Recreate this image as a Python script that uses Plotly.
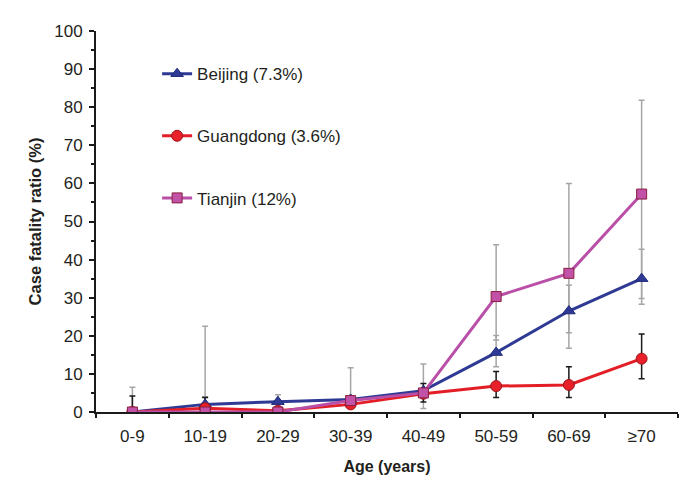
import plotly.graph_objects as go

categories = ["0-9", "10-19", "20-29", "30-39", "40-49", "50-59", "60-69", "≥70"]

beijing = [0, 2.0, 2.7, 3.3, 5.6, 15.6, 26.5, 35.0]
beijing_hi = [None, 4.0, 4.5, 3.3, 5.6, 20.1, 33.3, 42.7]
beijing_lo = [None, 2.0, 2.7, 3.3, 5.6, 11.9, 16.7, 28.3]

guangdong = [0, 1.0, 0.3, 2.0, 4.8, 6.8, 7.1, 14.0]
guangdong_hi = [4.2, 3.8, 0.3, 2.0, 7.5, 10.6, 11.9, 20.5]
guangdong_lo = [0, 1.0, 0.3, 2.0, 2.6, 3.8, 3.8, 8.7]

tianjin = [0, 0, 0, 3.0, 5.0, 30.3, 36.4, 57.2]
tianjin_hi = [6.5, 22.5, None, 11.6, 12.6, 43.9, 60.0, 81.8]
tianjin_lo = [0, 0, None, 3.0, 0.9, 18.9, 20.8, 29.8]

series_names = ["Beijing (7.3%)", "Guangdong (3.6%)", "Tianjin (12%)"]
y_ticks = list(range(0, 101, 10))

FONT = "Arial, Liberation Sans, sans-serif"


def err(vals, hi, lo):
    plus, minus = [], []
    for v, h, l in zip(vals, hi, lo):
        if h is None or l is None:
            plus.append(None)
            minus.append(None)
        else:
            plus.append(h - v)
            minus.append(v - l)
    return plus, minus


fig = go.Figure()

# error bars drawn first (behind lines)
for vals, hi, lo, col in [
    (tianjin, tianjin_hi, tianjin_lo, "#A6A6A6"),
    (beijing, beijing_hi, beijing_lo, "#A6A6A6"),
    (guangdong, guangdong_hi, guangdong_lo, "#1A1A1A"),
]:
    p, m = err(vals, hi, lo)
    fig.add_trace(go.Scatter(
        x=categories, y=vals, mode="markers",
        marker=dict(size=1, opacity=0),
        error_y=dict(type="data", symmetric=False, array=p, arrayminus=m,
                     color=col, thickness=1.5, width=3),
        showlegend=False, hoverinfo="skip",
    ))

styles = [
    (beijing, "#2E3A94", "triangle-up", 11, "#2E3A94", "#1F2A7A"),
    (guangdong, "#E31E26", "circle", 11, "#E8202A", "#9E1419"),
    (tianjin, "#B94FA7", "square", 10, "#C152A8", "#8A1E3E"),
]
for name, (vals, lc, sym, sz, fc, ec) in zip(series_names, styles):
    fig.add_trace(go.Scatter(
        x=categories, y=vals, mode="lines+markers", name=name,
        legendgroup=name,
        line=dict(color=lc, width=3),
        marker=dict(symbol=sym, size=sz, color=fc, line=dict(color=ec, width=1)),
    ))

# the page body has an 8px default margin, so the figure is 8px smaller
fig.update_layout(
    width=683, height=481,
    margin=dict(l=88, r=13, t=23, b=77, autoexpand=False),
    paper_bgcolor="white", plot_bgcolor="white",
    font=dict(family=FONT, size=17, color="#231f20"),
    showlegend=True,
    legend=dict(
        x=0.105, y=0.934, xanchor="left", yanchor="top",
        bgcolor="rgba(0,0,0,0)", traceorder="grouped",
        tracegroupgap=37, font=dict(size=17),
    ),
    xaxis=dict(
        type="category", categoryorder="array", categoryarray=categories,
        range=[-0.5, 7.5], showline=True, linecolor="#1a1a1a", linewidth=2,
        showgrid=False, zeroline=False, tickson="boundaries", automargin=False,
        ticks="outside", ticklen=4, tickwidth=2, tickcolor="#1a1a1a",
        ticklabelstandoff=8,
        title=dict(text="<b>Age (years)</b>", font=dict(size=16), standoff=15),
    ),
    yaxis=dict(
        range=[0, 100], tickvals=y_ticks, showline=True, linecolor="#1a1a1a",
        linewidth=2, showgrid=False, zeroline=False, automargin=False,
        ticks="outside", ticklen=5, tickwidth=1.5, tickcolor="#1a1a1a",
        ticklabelstandoff=3,
        minor=dict(dtick=5, ticks="outside", ticklen=3, tickwidth=1.5, tickcolor="#1a1a1a"),
        title=dict(text="<b>Case fatality ratio (%)</b>", font=dict(size=16.5), standoff=8),
    ),
)

fig.write_html("out.html")
